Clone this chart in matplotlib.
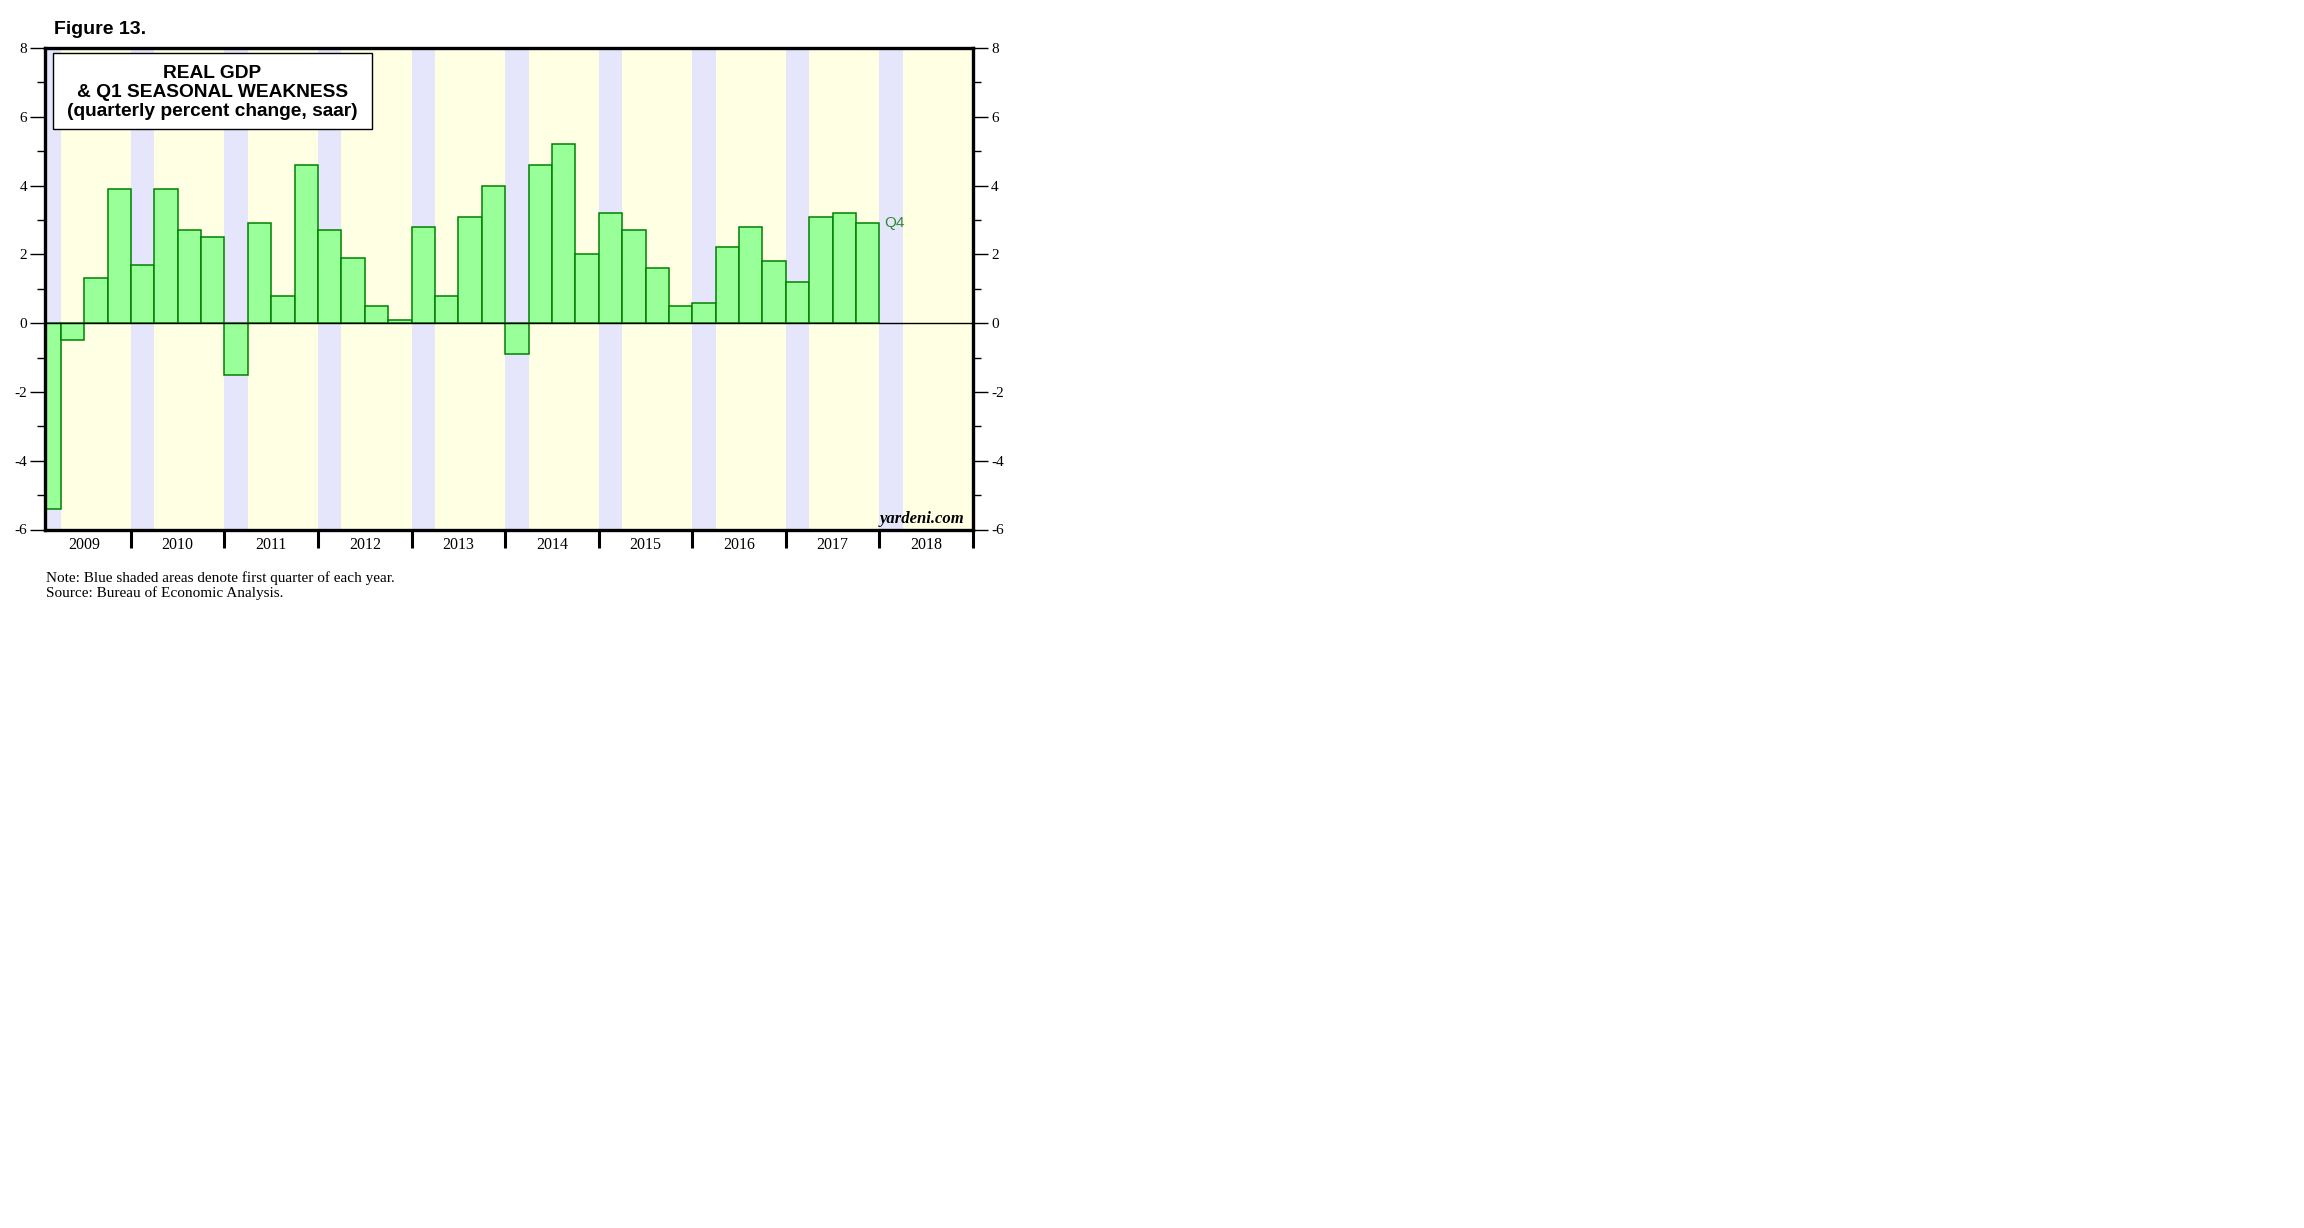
import matplotlib
matplotlib.use("Agg")
import matplotlib.pyplot as plt
from matplotlib.patches import Rectangle
from matplotlib.ticker import MultipleLocator, FixedLocator, NullFormatter

plt.rcParams["axes.unicode_minus"] = False

# quarterly real GDP growth, saar (%), 2009Q1 .. 2017Q4
years = [2009, 2010, 2011, 2012, 2013, 2014, 2015, 2016, 2017]
gdp = [
    [-5.4, -0.5, 1.3, 3.9],
    [1.7, 3.9, 2.7, 2.5],
    [-1.5, 2.9, 0.8, 4.6],
    [2.7, 1.9, 0.5, 0.1],
    [2.8, 0.8, 3.1, 4.0],
    [-0.9, 4.6, 5.2, 2.0],
    [3.2, 2.7, 1.6, 0.5],
    [0.6, 2.2, 2.8, 1.8],
    [1.2, 3.1, 3.2, 2.9],
]
axis_years = list(range(2009, 2019))
last_label = "Q4"

W, H = 2304, 1228
fig = plt.figure(figsize=(W / 100, H / 100), dpi=100)

def fx(px):
    return px / W

def fy(py):
    return 1 - py / H

ax = fig.add_axes([fx(45), fy(529.5), fx(973) - fx(45), fy(48) - fy(529.5)])
ax.set_facecolor("#ffffe3")

# blue shading for first quarter of each year
for yr in axis_years:
    ax.axvspan(yr, yr + 0.25, color="#e5e5fc", lw=0, zorder=0)

# bars
xs, vals = [], []
for yr, qs in zip(years, gdp):
    for q, v in enumerate(qs):
        xs.append(yr + q * 0.25)
        vals.append(v)
ax.bar(xs, vals, width=0.25, align="edge", color="#99ff99",
       edgecolor="#008000", linewidth=1.1, zorder=2)
ax.axhline(0, color="black", lw=1.0, zorder=3)

ax.text(xs[-1] + 0.30, vals[-1], last_label, color="#2e8b2e",
        fontsize=11, family="Liberation Sans", va="center", ha="left")

ax.set_xlim(2009.082, 2019.0)
ax.set_ylim(-6, 8)

# y axis, both sides
ax.yaxis.set_major_locator(MultipleLocator(2))
ax.yaxis.set_minor_locator(MultipleLocator(1))
ax.tick_params(axis="y", which="major", length=11, width=1.0, direction="out",
               left=True, right=True, labelleft=True, labelright=True,
               labelsize=11, pad=2)
ax.tick_params(axis="y", which="minor", length=6, width=1.0, direction="out",
               left=True, right=True)
for lab in ax.get_yticklabels():
    lab.set_family("Liberation Serif")

# x axis: ticks at year boundaries, labels at mid year
ax.xaxis.set_major_locator(FixedLocator(axis_years[1:] + [2019]))
ax.xaxis.set_major_formatter(NullFormatter())
ax.tick_params(axis="x", which="major", length=13, width=2.2, direction="out")
for yr in axis_years:
    ax.annotate(str(yr), xy=(yr + 0.5, 0), xycoords=("data", "axes fraction"),
                xytext=(0, -11.5), textcoords="offset points",
                ha="center", va="center", fontsize=11.5, family="Liberation Serif")

for sp in ax.spines.values():
    sp.set_linewidth(2.4)

ax.annotate("yardeni.com", xy=(1, 0), xycoords="axes fraction",
            xytext=(-6, 7.5), textcoords="offset points", ha="right",
            va="center", fontsize=12, family="Liberation Serif", style="italic",
            weight="bold")

# title box
fig.patches.append(Rectangle((fx(53), fy(129)), fx(372) - fx(53), fy(53) - fy(129),
                             transform=fig.transFigure, facecolor="white",
                             edgecolor="black", lw=1.0, zorder=5))
for i, line in enumerate(["REAL GDP", "& Q1 SEASONAL WEAKNESS",
                          "(quarterly percent change, saar)"]):
    fig.text(fx(212.5), fy(73.5 + 19 * i), line, ha="center", va="center",
             fontsize=13.8, weight="bold", family="Liberation Sans", zorder=6)

fig.text(fx(54), fy(30), "Figure 13.", ha="left", va="center", fontsize=14,
         weight="bold", family="Liberation Sans")

fig.text(fx(45.5), fy(578), "Note: Blue shaded areas denote first quarter of each year.",
         ha="left", va="center", fontsize=11, family="Liberation Serif")
fig.text(fx(45.5), fy(593), "Source: Bureau of Economic Analysis.",
         ha="left", va="center", fontsize=11, family="Liberation Serif")

fig.savefig("out.png", dpi=100)
